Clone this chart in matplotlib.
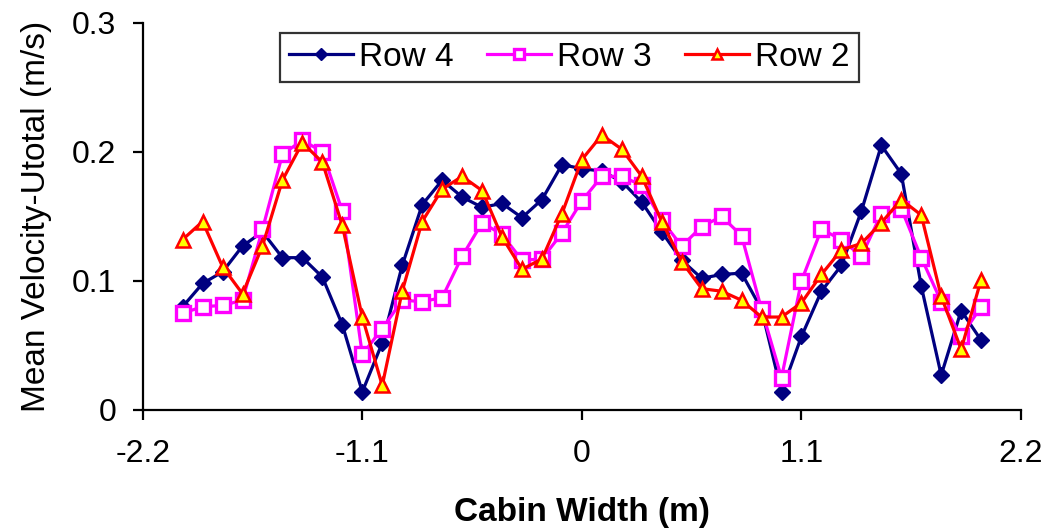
import matplotlib.pyplot as plt
import numpy as np

plt.rcParams['font.family'] = ['Liberation Sans', 'DejaVu Sans']

width = np.round(np.arange(-2.0, 2.05, 0.1), 1)

row4 = [0.080, 0.098, 0.107, 0.127, 0.138, 0.118, 0.118, 0.103, 0.066, 0.014,
        0.052, 0.112, 0.159, 0.178, 0.165, 0.157, 0.160, 0.149, 0.163, 0.190,
        0.187, 0.185, 0.177, 0.161, 0.138, 0.116, 0.102, 0.105, 0.106, 0.078,
        0.014, 0.057, 0.092, 0.112, 0.154, 0.205, 0.183, 0.096, 0.027, 0.077,
        0.054]
row3 = [0.075, 0.080, 0.081, 0.085, 0.140, 0.198, 0.209, 0.200, 0.154, 0.043,
        0.063, 0.085, 0.084, 0.087, 0.119, 0.145, 0.136, 0.116, 0.117, 0.137,
        0.162, 0.181, 0.181, 0.174, 0.147, 0.127, 0.142, 0.150, 0.135, 0.078,
        0.025, 0.100, 0.140, 0.132, 0.119, 0.152, 0.156, 0.118, 0.084, 0.057,
        0.080]
row2 = [0.132, 0.146, 0.111, 0.090, 0.127, 0.178, 0.207, 0.192, 0.143, 0.072,
        0.019, 0.092, 0.146, 0.171, 0.181, 0.170, 0.134, 0.109, 0.117, 0.152,
        0.194, 0.213, 0.202, 0.181, 0.146, 0.115, 0.094, 0.092, 0.085, 0.072,
        0.072, 0.083, 0.105, 0.124, 0.129, 0.145, 0.163, 0.151, 0.088, 0.047,
        0.101]

fig = plt.figure(figsize=(10.57, 5.29), dpi=100)
ax = fig.add_axes([0.135, 0.225, 0.831, 0.732])

ax.plot(width, row4, color='#000080', lw=2.3, marker='D', ms=8.5,
        mfc='#000080', mec='#000080', label='Row 4')
ax.plot(width, row3, color='#FF00FF', lw=2.3, marker='s', ms=10,
        mfc='white', mec='#FF00FF', mew=2.4, label='Row 3')
ax.plot(width, row2, color='#FF0000', lw=2.3, marker='^', ms=10.5,
        mfc='#FFFF00', mec='#FF0000', mew=1.8, label='Row 2')

ax.set_xlim(-2.2, 2.2)
ax.set_ylim(0, 0.3)
ax.set_xticks([-2.2, -1.1, 0, 1.1, 2.2])
ax.set_xticklabels(['-2.2', '-1.1', '0', '1.1', '2.2'])
ax.set_yticks([0, 0.1, 0.2, 0.3])
ax.set_yticklabels(['0', '0.1', '0.2', '0.3'])
ax.tick_params(labelsize=23, direction='out', length=7, width=1.6, colors='black')
ax.tick_params(axis='x', pad=14)
ax.tick_params(axis='y', pad=12)
for s in ['top', 'right']:
    ax.spines[s].set_visible(False)
for s in ['left', 'bottom']:
    ax.spines[s].set_linewidth(1.6)

ax.set_xlabel('Cabin Width (m)', fontsize=24, fontweight='bold', labelpad=20)
ax.set_ylabel('Mean Velocity-Utotal (m/s)', fontsize=24, labelpad=14)

leg = ax.legend(loc='upper center', bbox_to_anchor=(0.486, 1.0), ncol=3,
                fontsize=24, frameon=True, fancybox=False, edgecolor='black',
                handlelength=1.9, handletextpad=0.2, columnspacing=1.0,
                borderpad=0.28, borderaxespad=0.3, markerscale=0.75)
leg.get_frame().set_linewidth(1.6)

fig.savefig('out.png', dpi=100)
